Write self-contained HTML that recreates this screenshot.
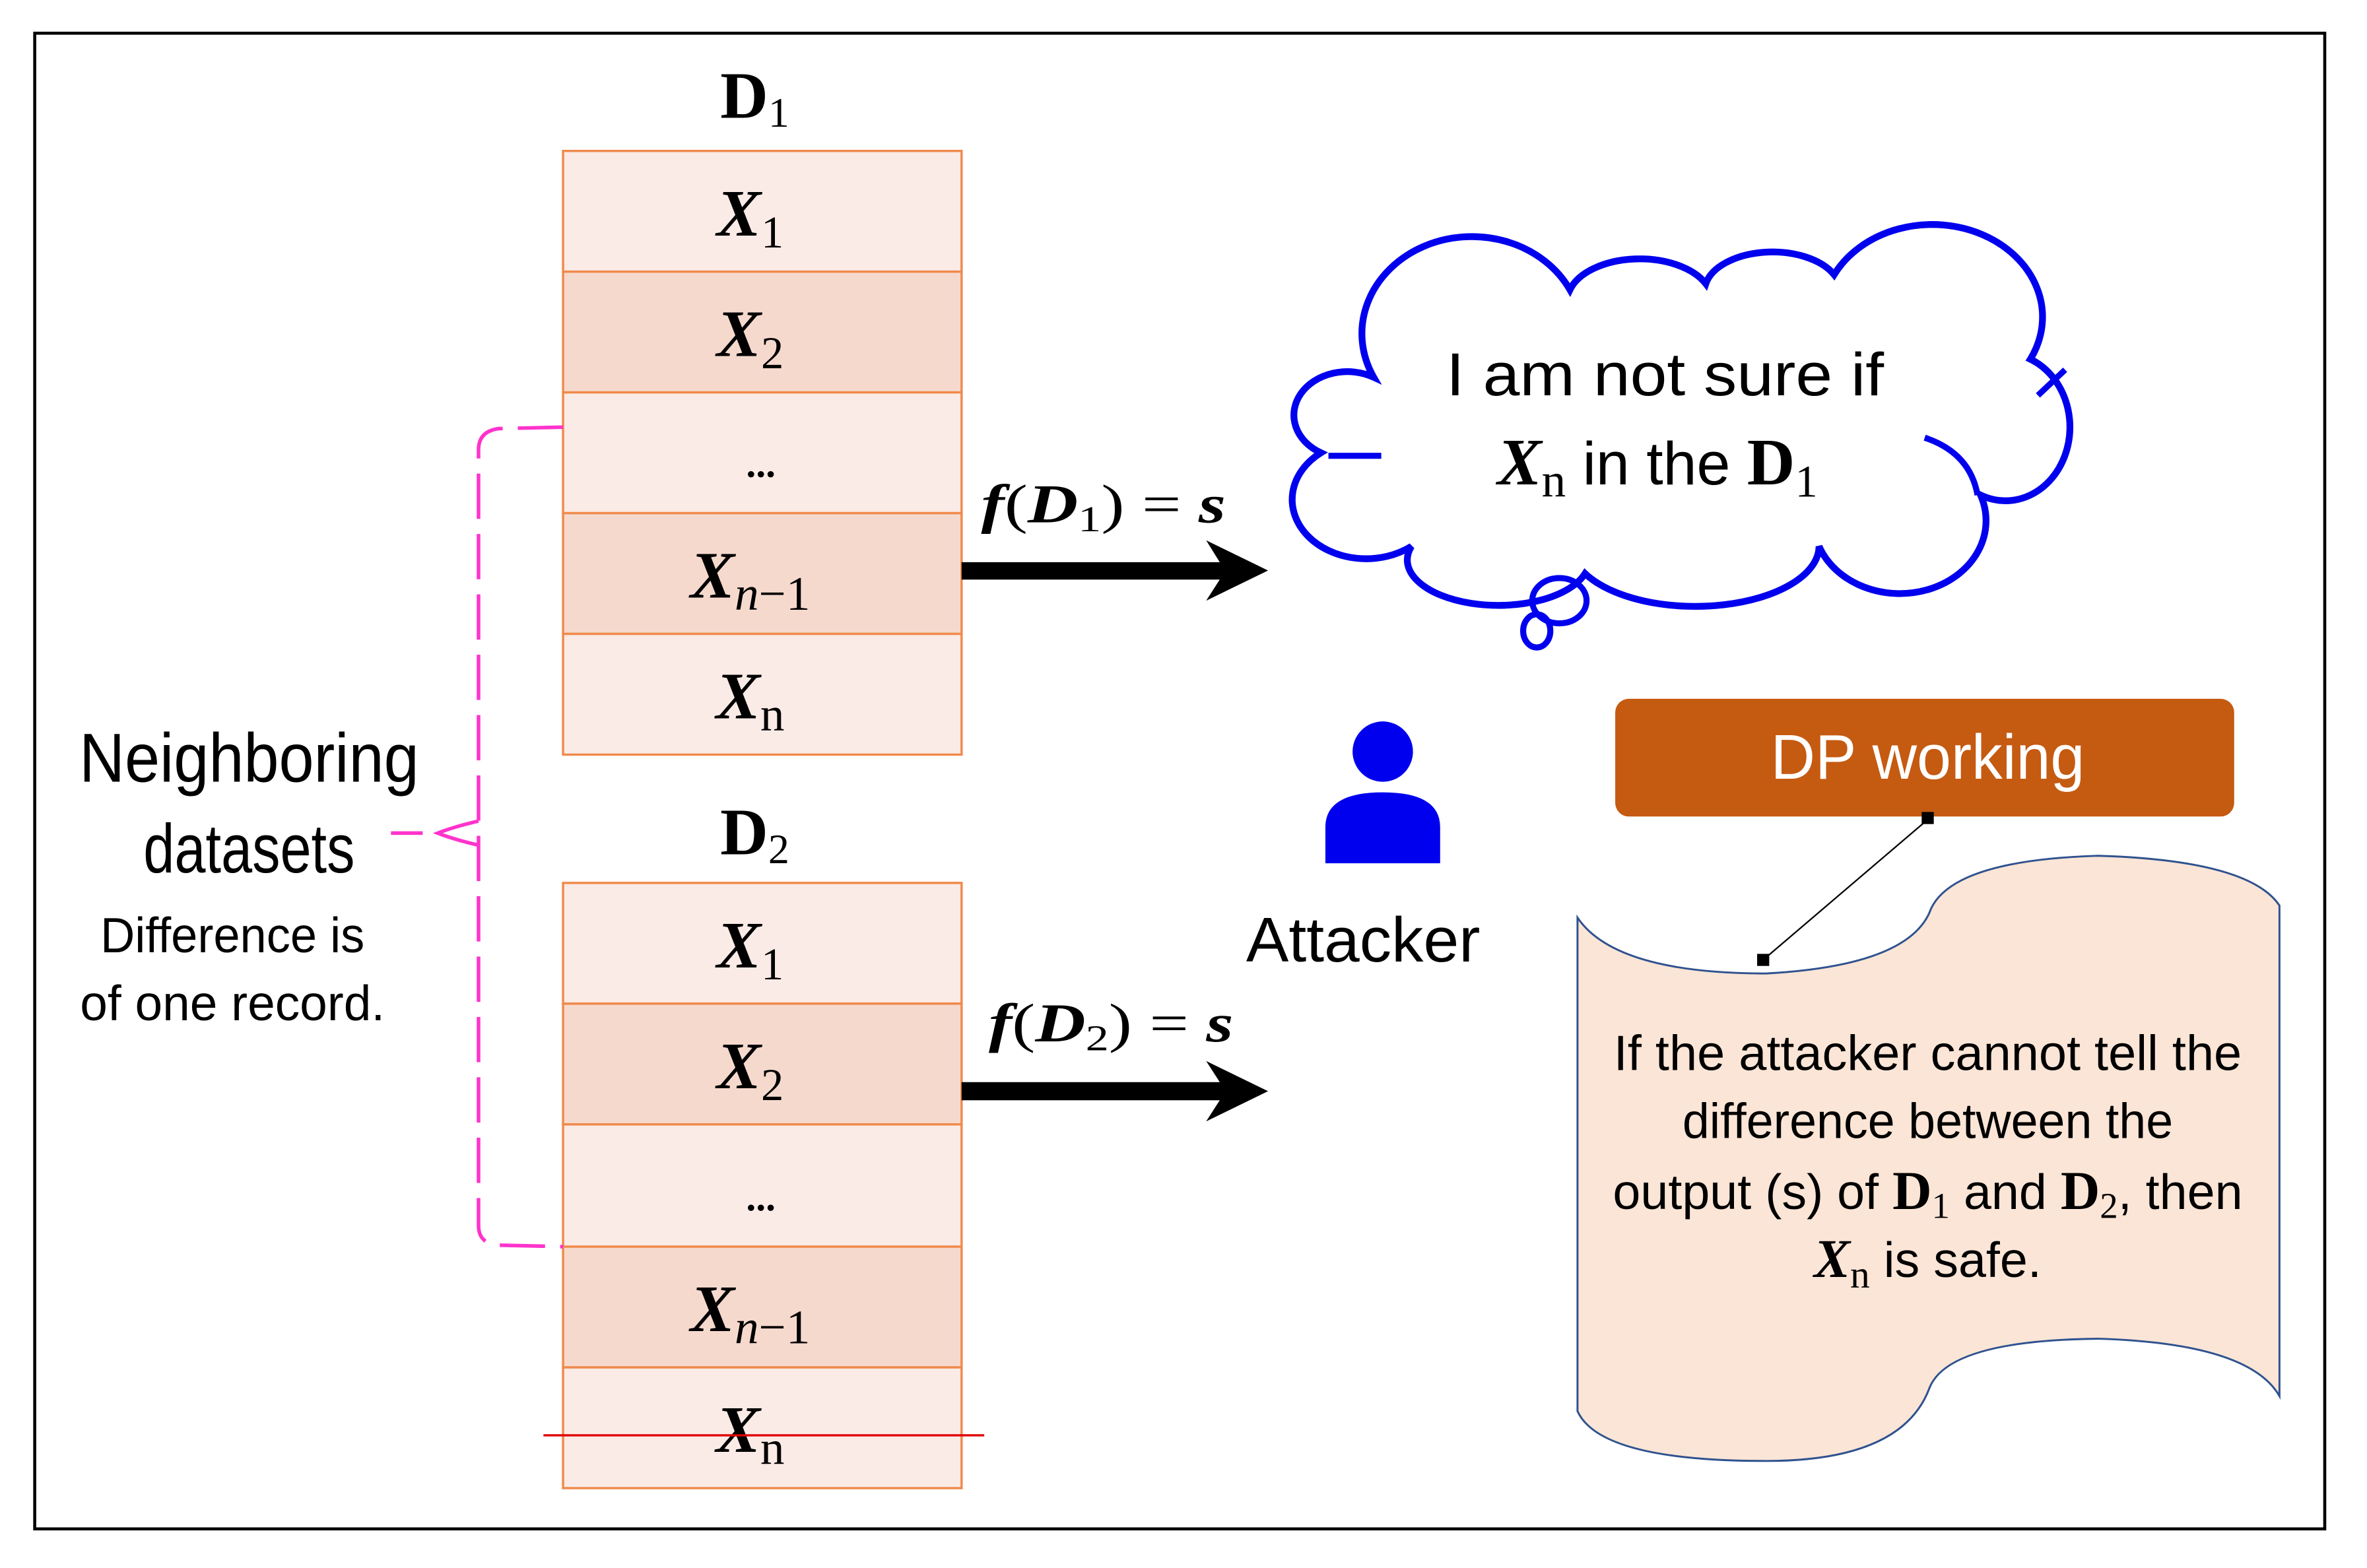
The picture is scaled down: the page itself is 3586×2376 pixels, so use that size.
<!DOCTYPE html>
<html><head><meta charset="utf-8"><style>html,body{margin:0;padding:0;background:#fff}svg{display:block}</style></head>
<body>
<svg width="3586" height="2376" viewBox="0 0 3586 2376" xmlns="http://www.w3.org/2000/svg">
<rect width="3586" height="2376" fill="#fff"/>
<g transform="scale(2.287)">
<rect x="23" y="22" width="1517" height="991" fill="none" stroke="#000" stroke-width="2"/>
<g font-family="Liberation Serif, serif" font-weight="bold" text-anchor="middle">
<text x="500" y="78" font-size="44">D<tspan font-size="28" font-weight="normal" dy="6">1</tspan></text>
<text x="500" y="566" font-size="44">D<tspan font-size="28" font-weight="normal" dy="6">2</tspan></text>
</g>
<g stroke="#f08a4b" stroke-width="1.5">
<rect x="373" y="100" width="264" height="80" fill="#fbebe6"/>
<rect x="373" y="180" width="264" height="80" fill="#f6d9cd"/>
<rect x="373" y="260" width="264" height="80" fill="#fbebe6"/>
<rect x="373" y="340" width="264" height="80" fill="#f6d9cd"/>
<rect x="373" y="420" width="264" height="80" fill="#fbebe6"/>
<rect x="373" y="585" width="264" height="80" fill="#fbebe6"/>
<rect x="373" y="665" width="264" height="80" fill="#f6d9cd"/>
<rect x="373" y="745" width="264" height="81" fill="#fbebe6"/>
<rect x="373" y="826" width="264" height="80" fill="#f6d9cd"/>
<rect x="373" y="906" width="264" height="80" fill="#fbebe6"/>
</g>
<g font-family="Liberation Serif, serif" font-weight="bold" font-style="italic" font-size="44" text-anchor="middle">
<text x="497" y="156">X<tspan font-style="normal" font-weight="normal" font-size="30" dy="8">1</tspan></text>
<text x="497" y="236">X<tspan font-style="normal" font-weight="normal" font-size="30" dy="8">2</tspan></text>
<text x="504" y="316" font-style="normal" font-size="26">...</text>
<text x="497" y="396">X<tspan font-weight="normal" font-size="32" dy="8">n</tspan><tspan font-style="normal" font-weight="normal" font-size="32">−1</tspan></text>
<text x="497" y="476">X<tspan font-style="normal" font-weight="normal" font-size="32" dy="8">n</tspan></text>
<text x="497" y="641">X<tspan font-style="normal" font-weight="normal" font-size="30" dy="8">1</tspan></text>
<text x="497" y="721">X<tspan font-style="normal" font-weight="normal" font-size="30" dy="8">2</tspan></text>
<text x="504" y="802" font-style="normal" font-size="26">...</text>
<text x="497" y="882">X<tspan font-weight="normal" font-size="32" dy="8">n</tspan><tspan font-style="normal" font-weight="normal" font-size="32">−1</tspan></text>
<text x="497" y="962">X<tspan font-style="normal" font-weight="normal" font-size="32" dy="8">n</tspan></text>
</g>
<line x1="360" y1="951" x2="652" y2="951" stroke="#e00000" stroke-width="1.5"/>
<path d="M373,283 L330,284 Q317,286 317,298 L317,812 Q317,824 330,825 L373,826" fill="none" stroke="#ff33cc" stroke-width="2.4" stroke-dasharray="30,10"/>
<path d="M317,544 Q300,548 290,552 Q300,556 317,560 M259,552 L280,552" fill="none" stroke="#ff33cc" stroke-width="2.4"/>
<g font-family="Liberation Sans Narrow, Liberation Sans, sans-serif" text-anchor="middle" fill="#000">
<text x="165" y="518" font-size="46" textLength="225" lengthAdjust="spacingAndGlyphs">Neighboring</text>
<text x="165" y="578" font-size="46" textLength="140" lengthAdjust="spacingAndGlyphs">datasets</text>
<text x="154" y="631" font-size="33" textLength="175" lengthAdjust="spacingAndGlyphs">Difference is</text>
<text x="154" y="676" font-size="33" textLength="202" lengthAdjust="spacingAndGlyphs">of one record.</text>
<text x="903" y="637" font-size="42" textLength="155" lengthAdjust="spacingAndGlyphs">Attacker</text>
</g>
<g font-family="Liberation Serif, serif" font-style="italic" font-weight="bold" font-size="36">
<text x="650" y="346" textLength="162" lengthAdjust="spacingAndGlyphs">f<tspan font-weight="normal" font-style="normal">(</tspan>D<tspan font-size="24" dy="6" font-style="normal" font-weight="normal">1</tspan><tspan dy="-6" font-weight="normal" font-style="normal">) = </tspan>s</text>
<text x="655" y="690" textLength="162" lengthAdjust="spacingAndGlyphs">f<tspan font-weight="normal" font-style="normal">(</tspan>D<tspan font-size="24" dy="6" font-style="normal" font-weight="normal">2</tspan><tspan dy="-6" font-weight="normal" font-style="normal">) = </tspan>s</text>
</g>
<path d="M637,372.5 L808,372.5 L799,358 L840,378 L799,398 L808,384 L637,384 Z" fill="#000"/>
<path d="M637,717 L808,717 L799,703 L840,723 L799,743 L808,729 L637,729 Z" fill="#000"/>
<path d="M910,250 A68,60 0 0 1 1040,192 A48,28 0 0 1 1130,188 A45,26 0 0 1 1215,182 A62,52 0 0 1 1345,238 A42,48 0 0 1 1312,328 A52,44 0 0 1 1205,362 A82,40 0 0 1 1050,380 A60,30 0 0 1 935,362 A40,32 0 0 1 875,300 A32,26 0 0 1 910,250 Z" fill="#fff" stroke="#0000ee" stroke-width="4.5"/>
<path d="M915,302 L880,302 M1275,290 Q1305,300 1310,328 M1350,262 L1368,245" fill="none" stroke="#0000ee" stroke-width="4"/>
<ellipse cx="1033" cy="398" rx="18" ry="15" fill="none" stroke="#0000ee" stroke-width="4"/>
<ellipse cx="1018" cy="418" rx="9" ry="11" fill="none" stroke="#0000ee" stroke-width="4"/>
<g font-family="Liberation Sans, sans-serif" text-anchor="middle" font-size="40">
<text x="1103" y="262" textLength="290" lengthAdjust="spacingAndGlyphs">I am not sure if</text>
<text x="1098" y="321"><tspan font-family="Liberation Serif, serif" font-style="italic" font-weight="bold" font-size="44">X</tspan><tspan font-family="Liberation Serif, serif" font-size="32" dy="8">n</tspan><tspan dy="-8"> in the </tspan><tspan font-family="Liberation Serif, serif" font-weight="bold" font-size="44">D</tspan><tspan font-family="Liberation Serif, serif" font-size="30" dy="8">1</tspan></text>
</g>
<circle cx="916" cy="498" r="20" fill="#0000ee"/>
<path d="M878,572 L878,548 Q878,525 916,525 Q954,525 954,548 L954,572 Z" fill="#0000ee"/>
<rect x="1070" y="463" width="410" height="78" rx="9" fill="#c55a11"/>
<text x="1277" y="516" font-family="Liberation Sans Narrow, Liberation Sans, sans-serif" font-size="42" fill="#fff" text-anchor="middle" textLength="208" lengthAdjust="spacingAndGlyphs">DP working</text>
<path d="M1045,608 Q1070,645 1170,645 Q1262,640 1278,605 Q1290,570 1390,567 Q1490,570 1510,600 L1510,925 Q1490,890 1390,887 Q1290,888 1278,920 Q1260,968 1170,968 Q1060,968 1045,935 Z" fill="#fbe5d6" stroke="#2f528f" stroke-width="1.3"/>
<line x1="1277" y1="543" x2="1168" y2="636" stroke="#000" stroke-width="1"/>
<rect x="1273" y="538" width="8" height="8" fill="#000"/>
<rect x="1164" y="632" width="8" height="8" fill="#000"/>
<g font-family="Liberation Sans Narrow, Liberation Sans, sans-serif" font-size="33" text-anchor="middle">
<text x="1277" y="709" textLength="416" lengthAdjust="spacingAndGlyphs">If the attacker cannot tell the</text>
<text x="1277" y="754" textLength="325" lengthAdjust="spacingAndGlyphs">difference between the</text>
<text x="1277" y="801">output (s) of <tspan font-family="Liberation Serif, serif" font-weight="bold" font-size="36">D</tspan><tspan font-family="Liberation Serif, serif" font-size="24" dy="6">1</tspan><tspan dy="-6"> and </tspan><tspan font-family="Liberation Serif, serif" font-weight="bold" font-size="36">D</tspan><tspan font-family="Liberation Serif, serif" font-size="24" dy="6">2</tspan><tspan dy="-6">, then</tspan></text>
<text x="1277" y="846"><tspan font-family="Liberation Serif, serif" font-weight="bold" font-style="italic" font-size="36">X</tspan><tspan font-family="Liberation Serif, serif" font-size="26" dy="7">n</tspan><tspan dy="-7"> is safe.</tspan></text>
</g>
</g>
</svg>
</body></html>
